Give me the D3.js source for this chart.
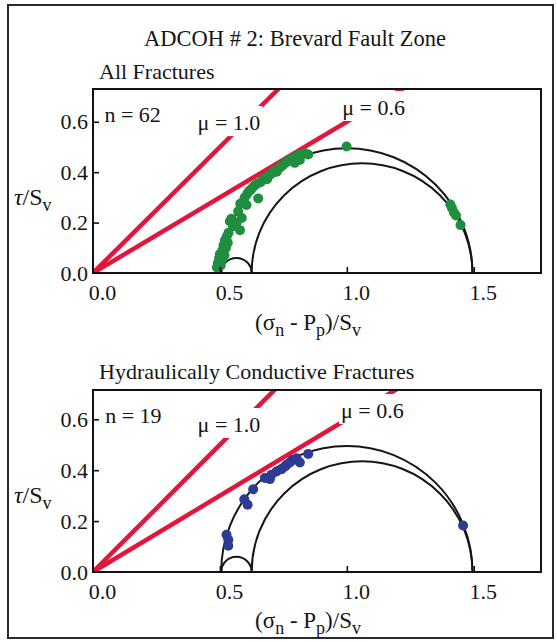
<!DOCTYPE html>
<html>
<head>
<meta charset="utf-8">
<script src="https://cdn.jsdelivr.net/npm/d3@7"></script>
<style>
  body { margin: 0; background: #fff; }
  svg text { font-family: "Liberation Serif", "Times New Roman", serif; fill: #151515; }
</style>
</head>
<body>
<svg id="chart" width="557" height="642"></svg>
<script>
const figTitle = "ADCOH # 2: Brevard Fault Zone";
const panelTitles = ["All Fractures", "Hydraulically Conductive Fractures"];
const xTicks = [0, 0.5, 1.0, 1.5];
const yTicks = [0, 0.2, 0.4, 0.6];

// normalised principal stresses S1, S2, S3 (effective, / Sv)
const principalStress = [1.495, 0.625, 0.505];
const frictionCoeffs = [1.0, 0.6];

// [normal stress, shear stress] per fracture
const allFractures = [
  [0.488, 0.022], [0.492, 0.040], [0.497, 0.060], [0.500, 0.075], [0.503, 0.030],
  [0.507, 0.050], [0.510, 0.090], [0.514, 0.110], [0.518, 0.070], [0.520, 0.130],
  [0.524, 0.100], [0.527, 0.145], [0.531, 0.120], [0.534, 0.160], [0.539, 0.205],
  [0.545, 0.215], [0.552, 0.185], [0.566, 0.200], [0.572, 0.245], [0.579, 0.170],
  [0.580, 0.275], [0.586, 0.218], [0.592, 0.285], [0.598, 0.300], [0.605, 0.270],
  [0.608, 0.315], [0.615, 0.325], [0.622, 0.330], [0.630, 0.340], [0.638, 0.348],
  [0.651, 0.296], [0.648, 0.355], [0.660, 0.360], [0.668, 0.370], [0.677, 0.376],
  [0.686, 0.372], [0.692, 0.388], [0.700, 0.392], [0.708, 0.398], [0.716, 0.405],
  [0.724, 0.402], [0.732, 0.415], [0.740, 0.422], [0.748, 0.428], [0.756, 0.436],
  [0.763, 0.440], [0.770, 0.446], [0.778, 0.450], [0.786, 0.455], [0.795, 0.437],
  [0.800, 0.460], [0.808, 0.468], [0.815, 0.448], [0.822, 0.470], [0.835, 0.475],
  [0.848, 0.470], [0.999, 0.502], [1.408, 0.272], [1.414, 0.258], [1.422, 0.240],
  [1.430, 0.228], [1.448, 0.190]
];

const conductiveFractures = [
  [0.526, 0.146], [0.533, 0.127], [0.533, 0.103], [0.596, 0.286], [0.609, 0.264],
  [0.631, 0.325], [0.677, 0.369], [0.697, 0.365], [0.703, 0.382], [0.723, 0.395],
  [0.743, 0.404], [0.757, 0.415], [0.763, 0.421], [0.776, 0.430], [0.785, 0.440],
  [0.802, 0.447], [0.815, 0.430], [0.848, 0.464], [1.458, 0.183]
];

const chartSize = {width: 557, height: 642};
const plotLeft = 93, plotRight = 541;

const panels = [
  {top: 89, bottom: 273, yMax: 0.73, titleY: 79, data: allFractures, color: "#1f8e3e",
   nPos: [0.045, 0.60], mu1Pos: [0.42, 0.567], mu6Pos: [0.99, 0.627], yTitle: 0.27, xTitleY: 330},
  {top: 390, bottom: 572, yMax: 0.715, titleY: 379, data: conductiveFractures, color: "#2d3b93",
   nPos: [0.048, 0.585], mu1Pos: [0.42, 0.55], mu6Pos: [0.985, 0.605], yTitle: 0.27, xTitleY: 628}
];

const svg = d3.select("#chart")
  .attr("width", chartSize.width)
  .attr("height", chartSize.height);

svg.append("rect")
  .attr("x", 8).attr("y", 5)
  .attr("width", 545).attr("height", 633)
  .attr("fill", "none")
  .attr("stroke", "#2a2a2a")
  .attr("stroke-width", 2);

svg.append("text")
  .attr("x", 295).attr("y", 46)
  .attr("text-anchor", "middle")
  .style("font-size", "22.5px")
  .text(figTitle);

const x = d3.scaleLinear().domain([0, 1.765]).range([plotLeft, plotRight]);

const addLabel = (g, px, py, txt, withBox) => {
  const t = g.append("text").attr("x", px).attr("y", py)
    .style("font-size", "22px")
    .text(txt);
  if (withBox) {
    const b = t.node().getBBox();
    g.insert("rect", () => t.node())
      .attr("x", b.x - 2).attr("y", b.y - 4)
      .attr("width", b.width + 4).attr("height", b.height + 5)
      .attr("fill", "#fff");
  }
  return t;
};

panels.forEach((p, i) => {
  const y = d3.scaleLinear().domain([0, p.yMax]).range([p.bottom, p.top]);
  const g = svg.append("g");

  g.append("text")
    .attr("x", 99).attr("y", p.titleY)
    .style("font-size", "22px")
    .text(panelTitles[i]);

  const clipId = "clip" + i;
  g.append("clipPath").attr("id", clipId)
    .append("rect")
    .attr("x", plotLeft).attr("y", p.top)
    .attr("width", plotRight - plotLeft).attr("height", p.bottom - p.top);

  const inner = g.append("g").attr("clip-path", `url(#${clipId})`);

  // Mohr circles
  const [s1, s2, s3] = principalStress;
  const circles = [[s3, s1], [s2, s1], [s3, s2]];
  inner.selectAll("path.mohr")
    .data(circles)
    .enter()
    .append("path")
    .attr("class", "mohr")
    .attr("d", c => {
      const rx = (x(c[1]) - x(c[0])) / 2;
      const ry = y(0) - y((c[1] - c[0]) / 2);
      return `M${x(c[0])},${y(0)} A${rx},${ry} 0 0 1 ${x(c[1])},${y(0)}`;
    })
    .attr("fill", "none")
    .attr("stroke", "#161616")
    .attr("stroke-width", 2);

  // frictional failure lines
  inner.selectAll("line.mu")
    .data(frictionCoeffs)
    .enter()
    .append("line")
    .attr("class", "mu")
    .attr("x1", x(0)).attr("y1", y(0))
    .attr("x2", mu => x(p.yMax / mu * 1.05))
    .attr("y2", mu => y(p.yMax * 1.05))
    .attr("stroke", "#e2163c")
    .attr("stroke-width", 4.5);

  // labels
  addLabel(g, x(p.nPos[0]), y(p.nPos[1]), "n = " + p.data.length, false);
  addLabel(g, x(p.mu1Pos[0]) - 2, y(p.mu1Pos[1]), "\u03bc = " + frictionCoeffs[0].toFixed(1), true);
  addLabel(g, x(p.mu6Pos[0]) - 2, y(p.mu6Pos[1]), "\u03bc = " + frictionCoeffs[1].toFixed(1), true);

  // fracture points
  inner.selectAll("circle.pt")
    .data(p.data)
    .enter()
    .append("circle")
    .attr("class", "pt")
    .attr("cx", d => x(d[0]))
    .attr("cy", d => y(d[1]))
    .attr("r", 5)
    .attr("fill", p.color);

  // axes
  const xAxis = d3.axisBottom(x).tickValues(xTicks).tickSize(-6).tickPadding(11)
    .tickFormat(d3.format(".1f"));
  const yAxis = d3.axisLeft(y).tickValues(yTicks).tickSize(-6).tickPadding(5)
    .tickFormat(d3.format(".1f"));

  const gx = g.append("g").attr("transform", `translate(0,${p.bottom})`).call(xAxis);
  const gy = g.append("g").attr("transform", `translate(${plotLeft},0)`).call(yAxis);
  [gx, gy].forEach(a => {
    a.select(".domain").remove();
    a.selectAll("line").attr("stroke", "#111").attr("stroke-width", 1.6);
    a.selectAll("text").style("font-size", "22px").attr("fill", "#151515");
  });
  gx.selectAll("text").attr("dx", 9);
  gx.selectAll(".tick").filter(d => d === 0).select("line").remove();
  gy.selectAll(".tick").filter(d => d === 0).select("line").remove();

  g.append("rect")
    .attr("x", plotLeft).attr("y", p.top)
    .attr("width", plotRight - plotLeft).attr("height", p.bottom - p.top)
    .attr("fill", "none")
    .attr("stroke", "#111")
    .attr("stroke-width", 2);

  // axis titles
  const xt = g.append("text")
    .attr("x", 308).attr("y", p.xTitleY)
    .attr("text-anchor", "middle")
    .style("font-size", "23px");
  xt.append("tspan").text("(\u03c3");
  xt.append("tspan").attr("dy", 6).style("font-size", "18px").text("n");
  xt.append("tspan").attr("dy", -6).text(" - P");
  xt.append("tspan").attr("dy", 6).style("font-size", "18px").text("p");
  xt.append("tspan").attr("dy", -6).text(")/S");
  xt.append("tspan").attr("dy", 6).style("font-size", "18px").text("v");

  const yt = g.append("text")
    .attr("x", 14).attr("y", y(p.yTitle))
    .style("font-size", "24px");
  yt.append("tspan").style("font-style", "italic").text("\u03c4");
  yt.append("tspan").text("/S");
  yt.append("tspan").attr("dy", 6).style("font-size", "18px").text("v");
});
</script>
</body>
</html>
